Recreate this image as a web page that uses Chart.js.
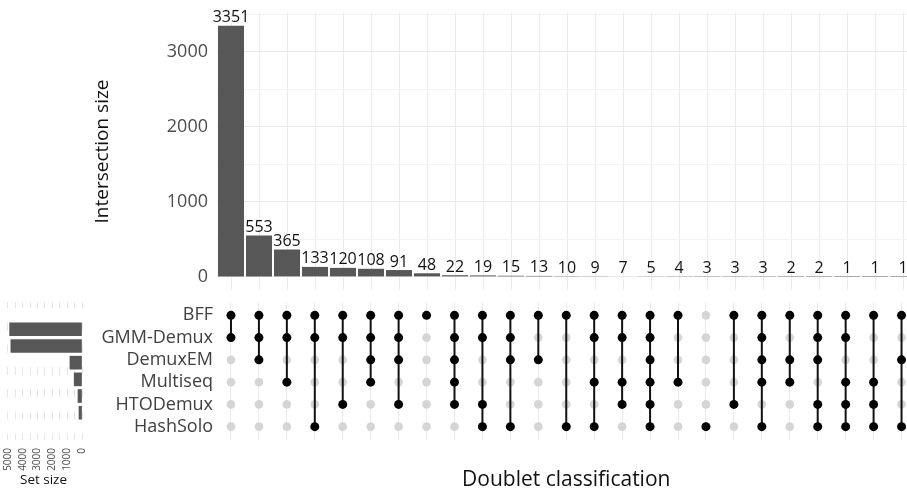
<!DOCTYPE html>
<html>
<head>
<meta charset="utf-8">
<script src="https://cdn.jsdelivr.net/npm/chart.js@4"></script>
<style>
  html, body { margin: 0; padding: 0; background: #fff; overflow: hidden; }
  #wrap { position: relative; width: 907px; height: 494px; overflow: hidden; }
  #wrap canvas { position: absolute; left: 0; top: 0; }
</style>
</head>
<body>
<div id="wrap">
  <canvas id="bars" width="920" height="494"></canvas>
  <canvas id="matrix" width="920" height="494"></canvas>
  <canvas id="sizes" width="920" height="494"></canvas>
</div>
<script>
// Sets (matrix rows, top to bottom) and their total sizes
const setNames = ["BFF", "GMM-Demux", "DemuxEM", "Multiseq", "HTODemux", "HashSolo"];
const setSizes = [4886, 4804, 815, 527, 271, 202];

// Intersections, left to right
const intersectionSizes = [3351, 553, 365, 133, 120, 108, 91, 48, 22, 19, 15, 13, 10,
                           9, 7, 5, 4, 3, 3, 3, 2, 2, 1, 1, 1];
// which sets (row index) take part in each intersection
const intersectionSets = [
  [0, 1], [0, 1, 2], [0, 1, 3], [0, 1, 5], [0, 1, 4], [0, 1, 2, 3], [0, 1, 2, 4],
  [0], [0, 1, 2, 3, 4], [0, 1, 4, 5], [0, 1, 2, 5], [0, 2], [0, 5], [0, 1, 3, 5],
  [0, 1, 3, 4], [0, 1, 2, 3, 4, 5], [0, 3], [5], [0, 4], [0, 1, 2, 3, 5], [0, 2, 3],
  [0, 1, 2, 4, 5], [0, 1, 3, 4, 5], [0, 3, 4, 5], [0, 2, 5]
];

// Tick values
const intersectionTicks = [0, 500, 1000, 1500, 2000, 2500, 3000, 3500];
const setSizeTicks = [0, 500, 1000, 1500, 2000, 2500, 3000, 3500, 4000, 4500, 5000];

Chart.defaults.font.family = "'Open Sans', 'DejaVu Sans', sans-serif";

const common = {
  responsive: false,
  animation: false,
  events: [],
  plugins: { legend: { display: false }, tooltip: { enabled: false } }
};

// value labels above the intersection bars
const barLabels = {
  id: "barLabels",
  afterDatasetsDraw(chart) {
    const ctx = chart.ctx;
    const meta = chart.getDatasetMeta(0);
    ctx.save();
    ctx.font = "16px 'Open Sans', sans-serif";
    ctx.fillStyle = "#111";
    ctx.textAlign = "center";
    ctx.textBaseline = "bottom";
    meta.data.forEach((bar, i) => {
      ctx.fillText(String(intersectionSizes[i]), bar.x, bar.y);
    });
    ctx.restore();
  }
};

// intersection size bars
new Chart(document.getElementById("bars"), {
  type: "bar",
  data: {
    labels: intersectionSizes.map((_, i) => String(i + 1)),
    datasets: [{
      data: intersectionSizes,
      backgroundColor: "#575757",
      barPercentage: 0.93,
      categoryPercentage: 1
    }]
  },
  options: {
    ...common,
    layout: { padding: { left: 87, right: 3, top: 13, bottom: 204 } },
    scales: {
      x: {
        ticks: { display: false },
        grid: { offset: false, color: "#ebebeb", drawTicks: false },
        border: { display: false },
        afterFit: s => { s.height = 0; s.paddingLeft = 0; s.paddingRight = 0; }
      },
      y: {
        min: -175,
        max: 3520,
        afterBuildTicks: s => { s.ticks = intersectionTicks.map(v => ({ value: v })); },
        ticks: {
          padding: 9,
          color: "#4d4d4d",
          font: { size: 18 },
          callback: v => (v % 1000 === 0 ? String(v) : "")
        },
        grid: {
          drawTicks: false,
          color: c => (c.tick && c.tick.value % 1000 === 0 ? "#e9e9e9" : "#f3f3f3")
        },
        border: { display: false },
        title: {
          display: true,
          text: "Intersection size",
          color: "#111",
          font: { size: 19 },
          padding: { top: 4, bottom: 4 }
        },
        afterFit: s => { s.width = 130; s.paddingTop = 0; s.paddingBottom = 0; }
      }
    }
  },
  plugins: [barLabels]
});

// membership matrix
const activeDots = [];
const inactiveDots = [];
intersectionSets.forEach((members, i) => {
  setNames.forEach((_, s) => {
    (members.includes(s) ? activeDots : inactiveDots).push({ x: i, y: s });
  });
});
const connectors = intersectionSets
  .filter(m => m.length > 1)
  .map(m => {
    const i = intersectionSets.indexOf(m);
    return {
      data: [{ x: i, y: Math.min(...m) }, { x: i, y: Math.max(...m) }],
      showLine: true,
      borderColor: "#111",
      borderWidth: 2,
      pointRadius: 0,
      order: 1
    };
  });

new Chart(document.getElementById("matrix"), {
  type: "scatter",
  data: {
    datasets: [
      { data: activeDots, backgroundColor: "#000", borderWidth: 0, pointRadius: 4.5, order: 0 },
      ...connectors,
      { data: inactiveDots, backgroundColor: "#d5d5d5", borderWidth: 0, pointRadius: 4.3, order: 2 }
    ]
  },
  options: {
    ...common,
    layout: { padding: { left: 0, right: 3, top: 302, bottom: 0 } },
    scales: {
      x: {
        type: "linear",
        min: -0.5,
        max: 24.5,
        afterBuildTicks: s => { s.ticks = intersectionSizes.map((_, i) => ({ value: i })); },
        ticks: { display: false },
        grid: { color: "#ebebeb", drawTicks: false },
        border: { display: false },
        title: {
          display: true,
          text: "Doublet classification",
          color: "#111",
          font: { size: 21 },
          padding: { top: 0, bottom: 1 }
        },
        afterFit: s => { s.height = 54; s.paddingLeft = 0; s.paddingRight = 0; }
      },
      y: {
        type: "linear",
        min: -0.6,
        max: 5.6,
        reverse: true,
        afterBuildTicks: s => { s.ticks = setNames.map((_, i) => ({ value: i })); },
        ticks: {
          padding: 4,
          color: "#404040",
          font: { size: 18 },
          callback: v => setNames[v]
        },
        grid: { display: false, drawTicks: false },
        border: { display: false },
        afterFit: s => { s.width = 217; s.paddingTop = 0; s.paddingBottom = 0; }
      }
    }
  }
});

// set size bars (drawn right to left)
new Chart(document.getElementById("sizes"), {
  type: "bar",
  data: {
    datasets: [{
      data: setSizes.map((v, i) => ({ x: v, y: i })),
      backgroundColor: "#575757",
      barThickness: 13
    }]
  },
  options: {
    ...common,
    indexAxis: "y",
    layout: { padding: { left: 5, right: 838, top: 302, bottom: 0 } },
    scales: {
      x: {
        type: "linear",
        min: 0,
        max: 5200,
        reverse: true,
        afterBuildTicks: s => { s.ticks = setSizeTicks.map(v => ({ value: v })); },
        ticks: {
          minRotation: 90,
          maxRotation: 90,
          autoSkip: false,
          padding: 8,
          color: "#4d4d4d",
          font: { size: 10 },
          callback: v => (v % 1000 === 0 ? String(v) : "")
        },
        grid: { color: "#e6e6e6", drawTicks: false },
        border: { display: false, dash: [8, 14.26], dashOffset: 1.76 },
        title: {
          display: true,
          text: "Set size",
          align: "center",
          color: "#111",
          font: { size: 13.5 },
          padding: { top: 0, bottom: 6 }
        },
        afterFit: s => { s.height = 54; s.paddingLeft = 0; s.paddingRight = 0; }
      },
      y: {
        type: "linear",
        min: -0.6,
        max: 5.6,
        reverse: true,
        display: false
      }
    }
  }
});
</script>
</body>
</html>
